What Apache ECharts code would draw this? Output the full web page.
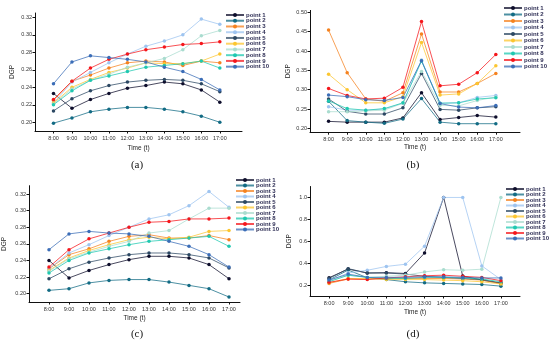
<!DOCTYPE html>
<html><head><meta charset="utf-8">
<script src="https://cdn.jsdelivr.net/npm/echarts@6/dist/echarts.min.js"></script>
<style>html,body{margin:0;padding:0;background:#fff}#c{width:550px;height:346px}</style>
</head><body><div id="c"></div>
<script>
const hours = [8, 9, 10, 11, 12, 13, 14, 15, 16, 17];
const pointNames = ['point 1','point 2','point 3','point 4','point 5','point 6','point 7','point 8','point 9','point 10'];
const colors = ['#0d0d2b','#126b84','#f5821f','#9ec4f0','#2c4863','#fcc630','#a9dccf','#1fc8b0','#f5161b','#3b6db7'];

// (a)
const dgpA = [
  [0.233,0.216,0.226,0.233,0.239,0.242,0.246,0.244,0.237,0.223],
  [0.199,0.205,0.212,0.215,0.217,0.217,0.215,0.212,0.207,0.200],
  [0.225,0.247,0.254,0.262,0.268,0.270,0.269,0.265,0.270,0.268],
  [0.222,0.246,0.257,0.268,0.278,0.287,0.293,0.300,0.318,0.312],
  [0.213,0.227,0.236,0.242,0.246,0.248,0.249,0.248,0.244,0.235],
  [0.222,0.240,0.249,0.257,0.262,0.268,0.267,0.267,0.270,0.278],
  [0.221,0.238,0.248,0.255,0.263,0.268,0.273,0.283,0.299,0.305],
  [0.220,0.236,0.248,0.253,0.258,0.263,0.265,0.267,0.270,0.262],
  [0.226,0.247,0.262,0.272,0.278,0.283,0.286,0.289,0.290,0.292],
  [0.244,0.269,0.276,0.274,0.272,0.269,0.263,0.258,0.249,0.237]
];
// (b)
const dgpB = [
  [0.218,0.216,0.216,0.216,0.227,0.292,0.223,0.228,0.233,0.229],
  [0.270,0.220,0.216,0.213,0.224,0.277,0.216,0.212,0.212,0.212],
  [0.454,0.344,0.276,0.270,0.292,0.444,0.294,0.294,0.316,0.342],
  [0.256,0.247,0.247,0.250,0.265,0.377,0.265,0.266,0.280,0.285],
  [0.276,0.244,0.237,0.237,0.253,0.342,0.249,0.247,0.253,0.256],
  [0.340,0.300,0.266,0.266,0.282,0.422,0.286,0.289,0.316,0.362],
  [0.243,0.243,0.245,0.247,0.265,0.347,0.260,0.258,0.272,0.281],
  [0.271,0.251,0.247,0.251,0.266,0.374,0.265,0.266,0.276,0.279],
  [0.303,0.285,0.276,0.278,0.306,0.476,0.310,0.314,0.344,0.391],
  [0.286,0.282,0.274,0.272,0.280,0.375,0.264,0.255,0.253,0.259]
];
// (c)
const dgpC = [
  [0.240,0.219,0.228,0.235,0.241,0.245,0.245,0.243,0.235,0.218],
  [0.204,0.206,0.213,0.216,0.217,0.217,0.214,0.210,0.206,0.196],
  [0.230,0.247,0.254,0.263,0.269,0.271,0.267,0.267,0.270,0.265],
  [0.230,0.249,0.259,0.270,0.280,0.290,0.295,0.306,0.323,0.304],
  [0.218,0.230,0.238,0.243,0.247,0.249,0.249,0.247,0.243,0.231],
  [0.228,0.243,0.252,0.259,0.265,0.268,0.266,0.268,0.275,0.276],
  [0.227,0.242,0.250,0.257,0.263,0.273,0.276,0.290,0.303,0.303],
  [0.225,0.240,0.249,0.254,0.259,0.263,0.265,0.267,0.269,0.257],
  [0.232,0.253,0.266,0.273,0.280,0.286,0.287,0.290,0.290,0.291],
  [0.253,0.272,0.275,0.273,0.272,0.269,0.263,0.257,0.247,0.232]
];
// (d)
const dgpD = [
  [0.267,0.346,0.310,0.313,0.306,0.492,1.000,0.282,0.246,0.215],
  [0.246,0.337,0.267,0.250,0.230,0.220,0.215,0.210,0.205,0.190],
  [0.215,0.255,0.255,0.260,0.260,0.260,0.260,0.255,0.245,0.215],
  [0.240,0.310,0.335,0.370,0.390,0.555,1.000,1.000,0.375,0.250],
  [0.260,0.350,0.310,0.310,0.300,0.280,0.270,0.260,0.250,0.220],
  [0.220,0.260,0.260,0.250,0.250,0.250,0.245,0.240,0.230,0.210],
  [0.235,0.290,0.270,0.280,0.290,0.320,0.340,0.335,0.345,1.000],
  [0.230,0.290,0.270,0.260,0.260,0.270,0.270,0.265,0.255,0.230],
  [0.225,0.255,0.250,0.265,0.275,0.285,0.290,0.280,0.270,0.240],
  [0.245,0.300,0.270,0.270,0.270,0.275,0.275,0.270,0.265,0.265]
];
const yTicksA = [0.20,0.22,0.24,0.26,0.28,0.30,0.32];
const yTicksB = [0.20,0.25,0.30,0.35,0.40,0.45,0.50];
const yTicksC = [0.20,0.22,0.24,0.26,0.28,0.30,0.32];
const yTicksD = [0.2,0.4,0.6,0.8,1.0];
const captions = ['(a)','(b)','(c)','(d)'];

const FONT = 'Liberation Sans';
const panels = [
  {data: dgpA, yt: yTicksA, dec: 2, grid:{left:35, top:13, width:207, height:118}, xmax:18.2, ymin:0.19, ymax:0.325, nameGapX:14, nameGapY:19,
   legend:{left:225, top:12}, legGap:-0.26, cap:[137,165]},
  {data: dgpB, yt: yTicksB, dec: 2, grid:{left:310, top:10.4, width:210, height:121.8}, xmax:18.3, ymin:0.19, ymax:0.505, nameGapX:12, nameGapY:18,
   legend:{left:503, top:5}, legGap:0.5, cap:[413,165]},
  {data: dgpC, yt: yTicksC, dec: 2, grid:{left:28, top:185.7, width:212, height:116.3}, xmax:17.55, ymin:0.19, ymax:0.33, nameGapX:13, nameGapY:21,
   legend:{left:235, top:177}, legGap:-0.5, cap:[137,334]},
  {data: dgpD, yt: yTicksD, dec: 1, grid:{left:310, top:186.5, width:210, height:109.5}, xmax:18, ymin:0.1, ymax:1.1, nameGapX:13, nameGapY:17,
   legend:{left:505, top:186}, legGap:-0.5, cap:[413,334]}
];

const axisLineStyle = {show:true, lineStyle:{color:'#111', width:1}};
const option = {
  animation:false,
  backgroundColor:'#fff',
  textStyle:{fontFamily:FONT},
  grid: panels.map(p => Object.assign({containLabel:false}, p.grid)),
  xAxis: panels.map((p,i) => ({
    type:'value', gridIndex:i, min:7, max:p.xmax,
    name:'Time (t)', nameLocation:'middle', nameGap:p.nameGapX,
    nameTextStyle:{fontSize:6.5, color:'#222', fontFamily:FONT},
    axisLine:axisLineStyle,
    axisTick:{show:true, length:2.5, customValues:hours, lineStyle:{color:'#111'}},
    axisLabel:{customValues:hours, formatter:v => v + ':00', fontSize:5.5, color:'#333', margin:4},
    splitLine:{show:false}
  })),
  yAxis: panels.map((p,i) => ({
    type:'value', gridIndex:i, min:p.ymin, max:p.ymax,
    name:'DGP', nameLocation:'middle', nameGap:p.nameGapY,
    nameTextStyle:{fontSize:6.5, color:'#222', fontFamily:FONT},
    axisLine:axisLineStyle,
    axisTick:{show:true, length:2.5, customValues:p.yt, lineStyle:{color:'#111'}},
    axisLabel:{customValues:p.yt, formatter:v => v.toFixed(p.dec), fontSize:5.5, color:'#333', margin:3},
    splitLine:{show:false}
  })),
  legend: panels.map((p,i) => ({
    orient:'vertical', left:p.legend.left, top:p.legend.top, padding:0,
    itemWidth:18, itemHeight:5, itemGap:p.legGap,
    data:pointNames,
    textStyle:{fontSize:6, lineHeight:5, fontWeight:'bold', color:'#2e2e55', padding:[0,0,0,-3]}
  })),
  graphic: panels.map((p,i) => ({
    type:'text', x:p.cap[0], y:p.cap[1],
    style:{text:captions[i], font:'11px "Liberation Serif"', fill:'#111', textAlign:'center', textVerticalAlign:'middle'}
  })),
  series: []
};
panels.forEach((p,i) => {
  p.data.forEach((vals,k) => {
    option.series.push({
      type:'line', name:pointNames[k], xAxisIndex:i, yAxisIndex:i,
      data: hours.map((h,j) => [h, vals[j]]),
      symbol:'circle', symbolSize:3.5,
      itemStyle:{color:colors[k]},
      lineStyle:{color:colors[k], width:1, opacity:0.75}
    });
  });
});
const chart = echarts.init(document.getElementById('c'), null, {renderer:'canvas'});
chart.setOption(option);
</script>
</body></html>
